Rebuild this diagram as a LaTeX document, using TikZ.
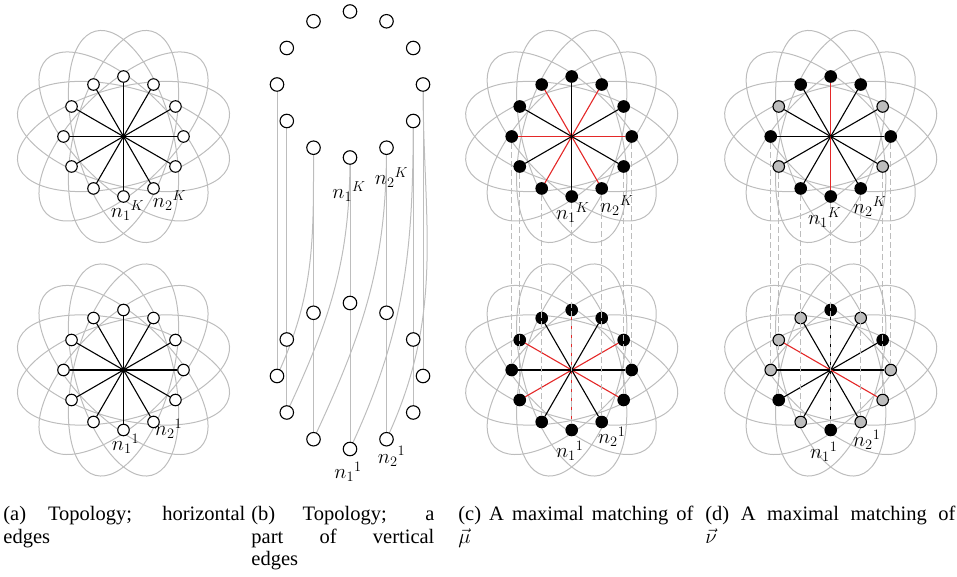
\documentclass[tikz,border=0pt]{standalone}
\usepackage{amsmath}
\usepackage{fontspec}
\setmainfont{Liberation Serif}
\usepackage{tikz}
\usetikzlibrary{backgrounds}
\definecolor{edgegrey}{gray}{0.74}
\definecolor{nodegrey}{gray}{0.74}
\definecolor{match}{RGB}{228,40,40}
\tikzstyle{vertex}=[draw,circle,fill=white,inner sep=0pt,minimum size=11.5pt,line width=1.1pt]
\tikzstyle{bvertex}=[vertex,fill=black]
\tikzstyle{gvertex}=[vertex,fill=nodegrey]
\tikzstyle{petal}=[draw=edgegrey,line width=1pt]
\tikzstyle{spoke}=[draw=black,line width=1.1pt]
\tikzstyle{redspoke}=[spoke,draw=match]
\tikzstyle{vline}=[draw=edgegrey,line width=1pt]
\tikzstyle{vdash}=[vline,dash pattern=on 6pt off 3pt]
\tikzstyle{lbl}=[inner sep=0pt,font=\fontsize{20}{22}\selectfont]
\tikzstyle{subcaption}=[inner sep=0pt,anchor=north west,align=justify,font=\fontsize{20.5}{22.5}\selectfont]

\begin{document}
\begin{tikzpicture}[x=1pt, y=1pt, thick]
\useasboundingbox (0,0) rectangle (957,577);
  % centres of the wheels and of the two rings
  \coordinate (aTop) at (123.5,440.5);
  \coordinate (aBot) at (123.5,207);
  \coordinate (bTop) at (350,492.5);
  \coordinate (bBot) at (350,201);
  \coordinate (cTop) at (571.7,440.5);
  \coordinate (cBot) at (571.7,207);
  \coordinate (dTop) at (830.7,440.5);
  \coordinate (dBot) at (830.7,207);
  % petals
  \foreach \w in {aTop,aBot,cTop,cBot,dTop,dBot}
    \foreach \r in {15,45,...,165}
      \draw[petal, shift={(\w)}, rotate=\r] (0,0) ellipse (109 and 49);
  % wheel vertices
  \foreach \w/\kind in {aTop/vertex,aBot/vertex,cTop/bvertex,cBot/bvertex}
    \foreach \a in {0,30,...,330}
      \node[\kind] (\w-\a) at ([shift={(\a:60)}]\w) {};
  \foreach \a/\kind in {0/bvertex,30/gvertex,60/bvertex,90/bvertex,
                        120/bvertex,150/gvertex,180/bvertex,210/gvertex,
                        240/bvertex,270/bvertex,300/bvertex,330/gvertex}
    \node[\kind] (dTop-\a) at ([shift={(\a:60)}]dTop) {};
  \foreach \a/\kind in {0/gvertex,30/bvertex,60/gvertex,90/bvertex,
                        120/gvertex,150/gvertex,180/gvertex,210/bvertex,
                        240/gvertex,270/bvertex,300/gvertex,330/gvertex}
    \node[\kind] (dBot-\a) at ([shift={(\a:60)}]dBot) {};
  % ring vertices
  \foreach \w in {bTop,bBot}
    \foreach \a in {0,30,...,330}
      \node[vertex,minimum size=13.5pt] (\w-\a) at ([shift={(\a:73)}]\w) {};
  % (b) vertical edges, behind the rings
  \begin{scope}[on background layer]
  \foreach \a in {180,210,240,270,300,330,0}
      \path[vline] (bTop-\a.center) edge (bBot-\a.center);
  \foreach \source/\dest in {240/180,270/210,300/240,330/270,0/300}
      \draw[vline] (bTop-\source.center) to[out=-90,in=65] (bBot-\dest.center);
  \end{scope}
  % spokes
  \foreach \w in {aTop,aBot}
    \foreach \a in {0,30,...,330}
      \path[spoke] (\w) edge (\w-\a);
  \foreach \a in {0,60,...,300}
      \path[redspoke] (cTop) edge (cTop-\a);
  \foreach \a in {30,90,...,330}
      \path[spoke] (cTop) edge (cTop-\a);
  \foreach \a in {30,90,...,330}
      \path[redspoke] (cBot) edge (cBot-\a);
  \foreach \a in {0,60,...,300}
      \path[spoke] (cBot) edge (cBot-\a);
  \foreach \a/\kind in {0/spoke,30/spoke,60/spoke,90/redspoke,120/spoke,150/spoke,
                        180/spoke,210/spoke,240/spoke,270/redspoke,300/spoke,330/spoke}
      \path[\kind] (dTop) edge (dTop-\a);
  \foreach \a/\kind in {0/spoke,30/spoke,60/spoke,90/spoke,120/spoke,150/redspoke,
                        180/spoke,210/spoke,240/spoke,270/spoke,300/spoke,330/redspoke}
      \path[\kind] (dBot) edge (dBot-\a);
  % dashed vertical edges
  \foreach \w/\low in {cTop/cBot,dTop/dBot}
    \foreach \a in {180,210,240,270,300,330,0}
      \path[vdash] (\w-\a) edge (\low-\a);
  % labels
  \node[lbl] (la1) at ([shift={(4,-14)}]aTop-270) {${n_1}^K$};
  \node[lbl] (la2) at ([shift={(16,-12)}]aTop-300) {${n_2}^K$};
  \node[lbl] (la3) at ([shift={(2,-14)}]aBot-270) {${n_1}^1$};
  \node[lbl] (la4) at ([shift={(15,-7)}]aBot-300) {${n_2}^1$};
  \node[lbl] (lb1) at ([shift={(-1,-34)}]bTop-270) {${n_1}^K$};
  \node[lbl] (lb2) at ([shift={(5,-30)}]bTop-300) {${n_2}^K$};
  \node[lbl] (lb3) at ([shift={(-2,-23)}]bBot-270) {${n_1}^1$};
  \node[lbl] (lb4) at ([shift={(5,-17)}]bBot-300) {${n_2}^1$};
  \node[lbl] (lc1) at ([shift={(1,-16)}]cTop-270) {${n_1}^K$};
  \node[lbl] (lc2) at ([shift={(15,-17)}]cTop-300) {${n_2}^K$};
  \node[lbl] (lc3) at ([shift={(-2,-21)}]cBot-270) {${n_1}^1$};
  \node[lbl] (lc4) at ([shift={(10,-15)}]cBot-300) {${n_2}^1$};
  \node[lbl] (ld1) at ([shift={(-6,-21)}]dTop-270) {${n_1}^K$};
  \node[lbl] (ld2) at ([shift={(9,-18)}]dTop-300) {${n_2}^K$};
  \node[lbl] (ld3) at ([shift={(-7,-22)}]dBot-270) {${n_1}^1$};
  \node[lbl] (ld4) at ([shift={(6,-18)}]dBot-300) {${n_2}^1$};
  % captions
  \node[subcaption, text width=242pt] (capa) at (3,71) {(a) Topology; horizontal\linebreak edges};
  \node[subcaption, text width=183pt] (capb) at (251,71) {(b) Topology; a\linebreak part of vertical\linebreak edges};
  \node[subcaption, text width=235pt] (capc) at (458,71) {(c) A maximal matching of\linebreak $\vec{\mu}$};
  \node[subcaption, text width=250pt] (capd) at (705,71) {(d) A maximal matching of\linebreak $\vec{\nu}$};
\end{tikzpicture}
\end{document}
